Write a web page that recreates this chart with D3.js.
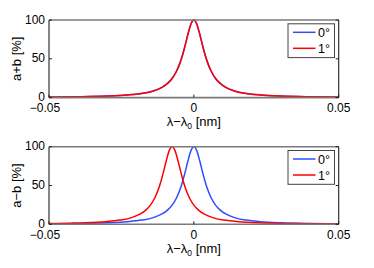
<!DOCTYPE html>
<html>
<head>
<meta charset="utf-8">
<script src="https://cdn.jsdelivr.net/npm/d3@7"></script>
<style>
	body { margin: 0; background: #fff; }
	svg { display: block; font-family: "Liberation Sans", Arial, sans-serif; }
</style>
</head>
<body>
<div id="chart"></div>
<script>

// wavelength offsets (nm), centred peak at 0
const lamCentre = [-0.05, -0.04, -0.03, -0.023, -0.018, -0.014, -0.011, -0.009, -0.0075, -0.006, -0.005, -0.004, -0.003, -0.002, -0.001,
	0, 0.001, 0.002, 0.003, 0.004, 0.005, 0.006, 0.0075, 0.009, 0.011, 0.014, 0.018, 0.023, 0.03, 0.04, 0.05];
const peakCentre = [0.7, 1.1, 2.0, 3.4, 5.4, 8.6, 13.3, 18.6, 24.7, 33.9, 42.5, 53.6, 67.3, 82.2, 94.9,
	100, 94.9, 82.2, 67.3, 53.6, 42.5, 33.9, 24.7, 18.6, 13.3, 8.6, 5.4, 3.4, 2.0, 1.1, 0.7];

// shifted peak (1 deg) in the a-b panel
const lamShift = [-0.05, -0.0425, -0.0375, -0.0305, -0.0255, -0.0215, -0.0185, -0.0165, -0.015, -0.0135, -0.0125, -0.0115, -0.0105, -0.0095, -0.0085,
	-0.0075, -0.0065, -0.0055, -0.0045, -0.0035, -0.0025, -0.0015, 0, 0.0015, 0.0035, 0.0065, 0.0105, 0.0155, 0.0225, 0.0325, 0.0425, 0.05];
const peakShift = [1.0, 1.5, 2.0, 3.4, 5.4, 8.6, 13.3, 18.6, 24.7, 33.9, 42.5, 53.6, 67.3, 82.2, 94.9,
	100, 94.9, 82.2, 67.3, 53.6, 42.5, 33.9, 24.7, 18.6, 13.3, 8.6, 5.4, 3.4, 2.0, 1.1, 0.7, 0.5];

const xTicks = [-0.05, 0, 0.05];
const yTicks = [0, 50, 100];
const legendLabels = ["0°", "1°"];
const seriesColours = ["#2f4cff", "#ff0000"];

class PeakPanel {

	constructor(svg, top, yLabel, series) {
		this.svg = svg;
		this.top = top;
		this.yLabel = yLabel;
		this.series = series;
		this.initVis();
	}

	initVis() {
		let vis = this;

		vis.left = 49;
		vis.right = 338.7;
		vis.bottom = vis.top + 77.6;

		vis.g = vis.svg.append("g");

		vis.x = d3.scaleLinear()
			.domain([-0.05, 0.05])
			.range([vis.left, vis.right]);

		vis.y = d3.scaleLinear()
			.domain([0, 100])
			.range([vis.bottom, vis.top]);

		vis.line = d3.line()
			.x(d => vis.x(d[0]))
			.y(d => vis.y(d[1]))
			.curve(d3.curveMonotoneX);

		// curves
		vis.series.forEach(function(s) {
			vis.g.append("path")
				.datum(d3.zip(s.lam, s.val))
				.attr("fill", "none")
				.attr("stroke", s.colour)
				.attr("stroke-width", 1.5)
				.attr("d", vis.line);
		});

		// box: top/bottom grey, sides dark
		vis.g.append("line")
			.attr("x1", vis.left).attr("x2", vis.right)
			.attr("y1", vis.top).attr("y2", vis.top)
			.attr("stroke", "#7a7a7a").attr("stroke-width", 1.6);
		vis.g.append("line")
			.attr("x1", vis.left).attr("x2", vis.right)
			.attr("y1", vis.bottom).attr("y2", vis.bottom)
			.attr("stroke", "#7a7a7a").attr("stroke-width", 1.6);
		vis.g.append("line")
			.attr("x1", vis.left).attr("x2", vis.left)
			.attr("y1", vis.top).attr("y2", vis.bottom)
			.attr("stroke", "#222").attr("stroke-width", 1.1);
		vis.g.append("line")
			.attr("x1", vis.right).attr("x2", vis.right)
			.attr("y1", vis.top).attr("y2", vis.bottom)
			.attr("stroke", "#222").attr("stroke-width", 1.1);

		// inward ticks
		xTicks.forEach(function(t) {
			vis.g.append("line")
				.attr("x1", vis.x(t)).attr("x2", vis.x(t))
				.attr("y1", vis.bottom).attr("y2", vis.bottom - 3)
				.attr("stroke", "#222");
			vis.g.append("text")
				.attr("x", vis.x(t) + (t < 0 ? -4 : 0))
				.attr("y", vis.bottom + 14.5)
				.attr("text-anchor", "middle")
				.attr("font-size", 12)
				.text(d3.format(".2~f")(t).replace("-", "−"));
		});

		yTicks.forEach(function(t) {
			vis.g.append("line")
				.attr("x1", vis.left).attr("x2", vis.left + 3)
				.attr("y1", vis.y(t)).attr("y2", vis.y(t))
				.attr("stroke", "#222");
			vis.g.append("line")
				.attr("x1", vis.right).attr("x2", vis.right - 3)
				.attr("y1", vis.y(t)).attr("y2", vis.y(t))
				.attr("stroke", "#222");
			vis.g.append("text")
				.attr("x", vis.left - 4)
				.attr("y", vis.y(t) + 3.6)
				.attr("text-anchor", "end")
				.attr("font-size", 12)
				.text(t);
		});

		// axis labels
		let xl = vis.g.append("text")
			.attr("x", (vis.left + vis.right) / 2)
			.attr("y", vis.bottom + 28.5)
			.attr("text-anchor", "middle")
			.attr("font-size", 13);
		xl.append("tspan").text("λ−λ");
		xl.append("tspan").attr("font-size", 8.5).attr("dy", 3).text("0");
		xl.append("tspan").attr("dy", -3).text(" [nm]");

		vis.g.append("text")
			.attr("transform", "translate(20.5," + ((vis.top + vis.bottom) / 2) + ") rotate(-90)")
			.attr("text-anchor", "middle")
			.attr("font-size", 13)
			.text(vis.yLabel);

		// legend
		let lg = vis.g.append("g")
			.attr("transform", "translate(288," + (vis.top + 3.8) + ")");
		lg.append("rect")
			.attr("width", 46.5)
			.attr("height", 33.8)
			.attr("fill", "#fff")
			.attr("stroke", "#444")
			.attr("stroke-width", 1);
		legendLabels.forEach(function(lab, i) {
			let yy = 8.5 + i * 16;
			lg.append("line")
				.attr("x1", 5).attr("x2", 27.5)
				.attr("y1", yy).attr("y2", yy)
				.attr("stroke", seriesColours[i])
				.attr("stroke-width", 1.5);
			lg.append("text")
				.attr("x", 30)
				.attr("y", yy + 4.5)
				.attr("font-size", 12.5)
				.text(lab);
		});
	}
}

let svg = d3.select("#chart").append("svg")
	.attr("width", 374)
	.attr("height", 268);

new PeakPanel(svg, 20, "a+b [%]", [
	{lam: lamCentre, val: peakCentre, colour: seriesColours[0]},
	{lam: lamCentre, val: peakCentre, colour: seriesColours[1]}
]);

new PeakPanel(svg, 146.7, "a−b [%]", [
	{lam: lamCentre, val: peakCentre, colour: seriesColours[0]},
	{lam: lamShift, val: peakShift, colour: seriesColours[1]}
]);

</script>
</body>
</html>
